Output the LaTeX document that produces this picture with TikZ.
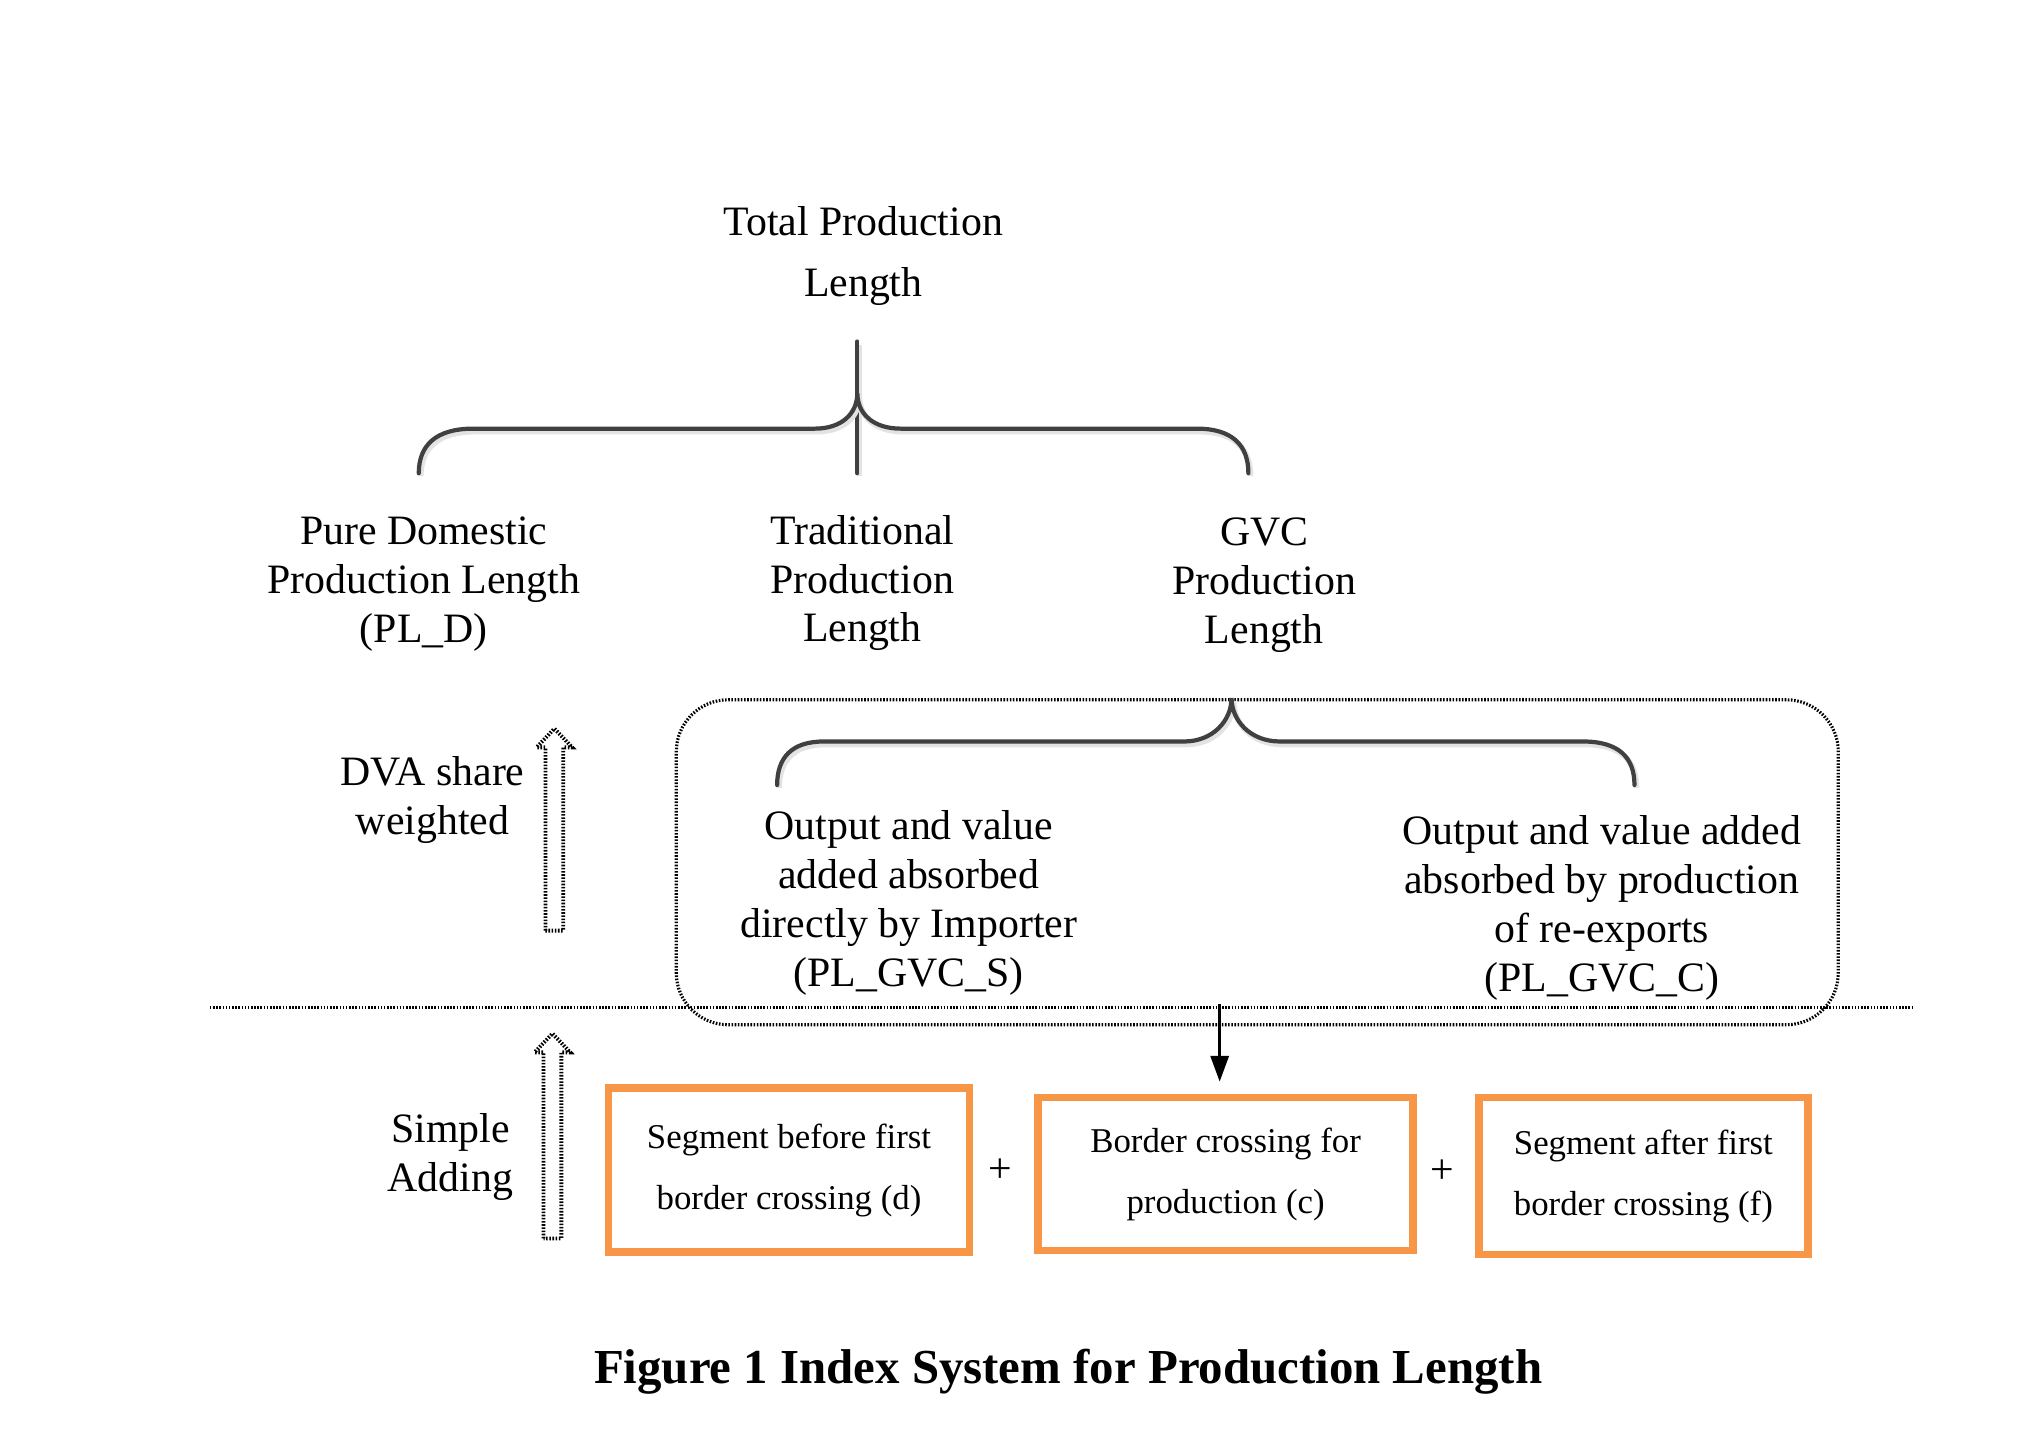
\documentclass[tikz,border=0pt]{standalone}
\usepackage{fontspec}
\setmainfont{Liberation Serif}
\usetikzlibrary{arrows.meta}
\definecolor{boxorange}{HTML}{F79646}
\definecolor{bracegray}{HTML}{404040}

\begin{document}
\begin{tikzpicture}[x=0.099mm, y=-0.099mm,
    txt/.style={align=center, font=\fontsize{11.9}{13.9}\selectfont, inner sep=0pt},
    brace/.style={draw=bracegray, line width=1.2pt, line cap=round,
        preaction={draw=gray!22, line width=1.6pt, transform canvas={shift={(0.2mm,-0.3mm)}}}},
    dots/.style={dash pattern=on 0.45pt off 0.45pt, line width=0.9pt},
    segbox/.style={draw=boxorange, line width=2.2pt, align=center, inner sep=0pt,
        font=\fontsize{9.9}{17.4}\selectfont}]
    \useasboundingbox (0,0) rectangle (2038.4,1444.4);

    % upper level
    \node[txt, font=\fontsize{11.9}{17.4}\selectfont] (total) at (872,259) {Total Production\\Length};
    \node[txt] (pure) at (428,590) {Pure Domestic\\Production Length\\(PL\_D)};
    \node[txt] (trad) at (871,589) {Traditional\\Production\\Length};
    \node[txt] (gvc) at (1277,591) {GVC\\Production\\Length};

    \draw[brace] (866,345) -- (866,478);
    \draw[brace] (423,478) .. controls (423,450) and (440,433) .. (478,433) -- (823,433)
        .. controls (850,433) and (866,418) .. (866,397)
        .. controls (866,418) and (882,433) .. (910,433) -- (1209,433)
        .. controls (1245,433) and (1261,450) .. (1261,478);

    % GVC split
    \node[draw, dots, rounded corners=5.2mm, minimum width=116.2mm, minimum height=32.5mm] (gvcbox) at (1270,871) {};
    \draw[brace] (785,793) .. controls (785,765) and (800,749) .. (832,749) -- (1196,749)
        .. controls (1225,749) and (1244,728) .. (1244,705)
        .. controls (1244,728) and (1263,749) .. (1293,749) -- (1599,749)
        .. controls (1635,749) and (1651,765) .. (1651,793);
    \node[txt] (gvcs) at (918,912) {Output and value\\added absorbed\\directly by Importer\\(PL\_GVC\_S)};
    \node[txt] (gvcc) at (1618,917) {Output and value added\\absorbed by production\\of re-exports\\(PL\_GVC\_C)};

    \node[txt] (dva) at (437,808) {DVA share\\weighted};
    \node[txt] (simple) at (455,1169) {Simple\\Adding};

    % hollow arrows
    \foreach \ax/\ay/\by in {560/736/940, 558/1044/1251}
        \draw[dots, line width=1.1pt] (\ax-9,\by) -- (\ax-9,\ay+19) -- (\ax-18,\ay+19) -- (\ax,\ay)
            -- (\ax+18,\ay+19) -- (\ax+9,\ay+19) -- (\ax+9,\by) -- cycle;

    \draw[dots] (212,1018) -- (1931,1018);

    % segments
    \node[segbox, minimum width=36.1mm, minimum height=16.4mm] (segd) at (797,1182) {Segment before first\\border crossing (d)};
    \node[segbox, minimum width=37.5mm, minimum height=15.3mm] (segc) at (1238,1186) {Border crossing for\\production (c)};
    \node[segbox, minimum width=32.9mm, minimum height=15.7mm] (segf) at (1660,1188) {Segment after first\\border crossing (f)};
    \node[txt] (plus1) at (1010,1183) {+};
    \node[txt] (plus2) at (1457,1184) {+};

    \coordinate (drop) at (1232,1014);
    \draw[-{Triangle[length=2.6mm, width=1.8mm]}, line width=1pt, shorten >=1.2mm] (drop) -- (drop |- segc.north);

    \node[font=\fontsize{13.9}{17}\selectfont\bfseries] (caption) at (1079,1386) {Figure 1 Index System for Production Length};
\end{tikzpicture}
\end{document}
